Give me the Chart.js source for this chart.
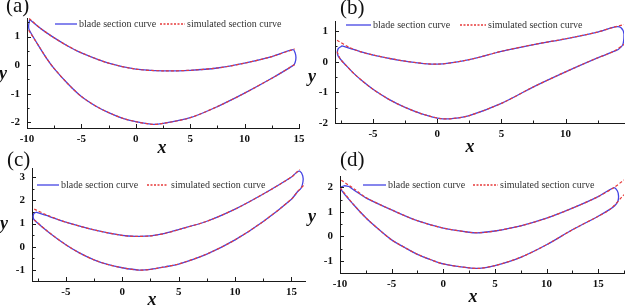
<!DOCTYPE html>
<html>
<head>
<meta charset="utf-8">
<script src="https://cdn.jsdelivr.net/npm/chart.js@4/dist/chart.umd.min.js"></script>
<style>
  html, body { margin: 0; padding: 0; background: #fff; }
  #wrap { position: relative; width: 627px; height: 306px; overflow: hidden; }
  #wrap canvas { position: absolute; left: 0; top: 0; }
</style>
</head>
<body>
<div id="wrap">
  <canvas id="cA" width="627" height="306"></canvas>
  <canvas id="cB" width="627" height="306"></canvas>
  <canvas id="cC" width="627" height="306"></canvas>
  <canvas id="cD" width="627" height="306"></canvas>
</div>
<script>
// ---- data: [x, y] points ----
// (a)
const bladeA = [
  [-9.75,1.6],[-8.7,1.27],[-7.6,0.98],[-6.3,0.68],[-5,0.43],[-2.5,0.07],[0,-0.14],[2.5,-0.2],[5,-0.18],[7.5,-0.1],[10,0.07],[12.5,0.3],[14.45,0.54],
  [14.65,0.42],[14.72,0.27],[14.65,0.1],
  [14.5,0.0],[12.5,-0.46],[10,-0.98],[7.5,-1.45],[5,-1.84],[2.5,-2.04],[1.5,-2.07],[0,-1.98],[-1.2,-1.86],[-2.5,-1.66],[-3.7,-1.43],[-5,-1.1],[-6.2,-0.67],[-7.5,-0.12],[-8.2,0.24],[-9,0.72],[-9.8,1.24],
  [-9.85,1.38],[-9.75,1.6]
];
const simUpperA = [[-9.8,1.63],[-8.7,1.27],[-7.6,0.98],[-6.3,0.68],[-5,0.43],[-2.5,0.07],[0,-0.14],[2.5,-0.2],[5,-0.18],[7.5,-0.1],[10,0.07],[12.5,0.3],[14.6,0.57]];
const simLowerA = [[-9.85,1.22],[-9,0.72],[-8.2,0.24],[-7.5,-0.12],[-6.2,-0.67],[-5,-1.1],[-3.7,-1.43],[-2.5,-1.66],[-1.2,-1.86],[0,-1.98],[1.5,-2.07],[2.5,-2.04],[5,-1.84],[7.5,-1.45],[10,-0.98],[12.5,-0.46],[14.6,0.02]];
const xTicksA = [-10, -5, 0, 5, 10, 15];
const yTicksA = [-2, -1, 0, 1];

// (b)
const bladeB = [
  [-7.4,0.52],[-6.8,0.44],[-6,0.33],[-5,0.22],[-2.5,0.02],[0,-0.08],[2.5,0.07],[5,0.34],[7.5,0.56],[10,0.75],[12.4,0.96],[13.85,1.14],
  [14.3,1.12],[14.55,0.9],[14.45,0.55],[14.1,0.4],
  [13.7,0.33],[12.4,0.11],[10,-0.33],[7.5,-0.82],[5,-1.36],[2.5,-1.76],[1.3,-1.85],[0.3,-1.86],[-1.2,-1.7],[-2.5,-1.49],[-3.8,-1.22],[-5,-0.9],[-5.8,-0.64],[-6.5,-0.38],[-7.1,-0.12],[-7.55,0.09],
  [-7.75,0.22],[-7.72,0.42],[-7.4,0.52]
];
const simUpperB = [[-7.8,0.7],[-6.8,0.46],[-6,0.33],[-5,0.22],[-2.5,0.02],[0,-0.08],[2.5,0.07],[5,0.34],[7.5,0.56],[10,0.75],[12.4,0.96],[13.85,1.14],[14.6,1.22]];
const simLowerB = [[-7.8,0.33],[-7.55,0.09],[-7.1,-0.12],[-6.5,-0.38],[-5.8,-0.64],[-5,-0.9],[-3.8,-1.22],[-2.5,-1.49],[-1.2,-1.7],[0.3,-1.86],[1.3,-1.85],[2.5,-1.76],[5,-1.36],[7.5,-0.82],[10,-0.33],[12.4,0.11],[13.7,0.33],[14.6,0.58]];
const xTicksB = [-5, 0, 5, 10];
const yTicksB = [-2, -1, 0, 1];

// (c)
const bladeC = [
  [-7.66,1.49],[-6.5,1.31],[-5,1.06],[-2.5,0.73],[0,0.49],[1.2,0.45],[2.5,0.47],[3.8,0.58],[5,0.74],[7.5,1.1],[10,1.62],[12.5,2.27],[15,3.0],[15.45,3.2],
  [15.75,3.25],[16.0,3.05],[16.02,2.8],[15.85,2.52],
  [15.55,2.38],[15,2.05],[12.5,1.09],[10,0.3],[7.5,-0.31],[5,-0.74],[3.8,-0.86],[2.5,-0.97],[1.5,-1.0],[0,-0.9],[-1.3,-0.76],[-2.5,-0.56],[-3.8,-0.26],[-5,0.09],[-6.5,0.62],[-7.66,1.09],
  [-7.88,1.22],[-7.85,1.42],[-7.66,1.49]
];
const simUpperC = [[-7.8,1.62],[-6.5,1.33],[-5,1.06],[-2.5,0.73],[0,0.49],[1.2,0.45],[2.5,0.47],[3.8,0.58],[5,0.74],[7.5,1.1],[10,1.62],[12.5,2.27],[15,3.0],[15.45,3.2],[15.75,3.32]];
const simLowerC = [[-7.8,1.16],[-6.5,0.62],[-5,0.09],[-3.8,-0.26],[-2.5,-0.56],[-1.3,-0.76],[0,-0.9],[1.5,-1.0],[2.5,-0.97],[3.8,-0.86],[5,-0.74],[7.5,-0.31],[10,0.3],[12.5,1.09],[15,2.05],[15.55,2.38],[16.2,2.7]];
const xTicksC = [-5, 0, 5, 10, 15];
const yTicksC = [-1, 0, 1, 2, 3];

// (d)
const bladeD = [
  [-9.17,2.04],[-8.52,1.85],[-7.45,1.56],[-5,1.08],[-2.45,0.63],[0,0.34],[2.5,0.17],[3.5,0.15],[5,0.22],[7.5,0.43],[10,0.74],[12.5,1.15],[15,1.62],[16.49,1.98],
  [16.85,1.86],[16.97,1.65],[16.9,1.42],[16.6,1.25],
  [16.2,1.12],[15,0.82],[12.5,0.27],[10,-0.34],[7.5,-0.85],[5,-1.19],[3.5,-1.3],[2.5,-1.28],[0,-1.12],[-1.2,-0.95],[-2.45,-0.74],[-3.7,-0.46],[-5,-0.14],[-6.2,0.27],[-7.45,0.74],[-8.7,1.3],[-9.97,1.96],
  [-9.6,2.06],[-9.17,2.04]
];
const simUpperD = [[-9.87,2.29],[-8.52,1.9],[-7.45,1.57],[-5,1.08],[-2.45,0.63],[0,0.34],[2.5,0.17],[3.5,0.15],[5,0.22],[7.5,0.43],[10,0.74],[12.5,1.15],[15,1.62],[16.49,1.98],[17.5,2.3]];
const simLowerD = [[-9.97,1.98],[-8.7,1.3],[-7.45,0.74],[-6.2,0.27],[-5,-0.14],[-3.7,-0.46],[-2.45,-0.74],[-1.2,-0.95],[0,-1.12],[2.5,-1.28],[3.5,-1.3],[5,-1.19],[7.5,-0.85],[10,-0.34],[12.5,0.27],[15,0.82],[16.2,1.12],[17.5,1.7]];
const xTicksD = [-10, -5, 0, 5, 10, 15];
const yTicksD = [-1, 0, 1, 2];

const BLUE = "#4444e4";
const RED = "#e63a3a";
const AXIS = "#1a1a1a";
const SERIF = '"Liberation Serif", "Times New Roman", serif';
const W = 627, H = 306;

/**
 * Draws inward tick marks, panel label, axis titles and the in-plot legend
 */
const decor = {
    id: "decor",
    afterDraw(chart, args, o) {
        const ctx = chart.ctx;
        const xs = chart.scales.x, ys = chart.scales.y;
        ctx.save();
        ctx.strokeStyle = AXIS;
        ctx.lineWidth = 1;

        // x ticks (major + one minor between)
        const hx = o.xStep / 2;
        for (let v = Math.ceil(xs.min / hx - 1e-9) * hx; v <= xs.max + 1e-9; v += hx) {
            const major = Math.abs(v / o.xStep - Math.round(v / o.xStep)) < 1e-6;
            const px = Math.round(xs.getPixelForValue(v)) + 0.5;
            ctx.beginPath();
            ctx.moveTo(px, xs.top);
            ctx.lineTo(px, xs.top - (major ? 4 : 2.5));
            ctx.stroke();
        }
        // y ticks
        const hy = o.yStep / 2;
        for (let v = Math.ceil(ys.min / hy - 1e-9) * hy; v <= ys.max + 1e-9; v += hy) {
            const major = Math.abs(v / o.yStep - Math.round(v / o.yStep)) < 1e-6;
            const py = Math.round(ys.getPixelForValue(v)) + 0.5;
            ctx.beginPath();
            ctx.moveTo(ys.right, py);
            ctx.lineTo(ys.right + (major ? 4 : 2.5), py);
            ctx.stroke();
        }

        // panel label
        ctx.fillStyle = "#111";
        ctx.font = "21px " + SERIF;
        ctx.textAlign = "left";
        ctx.textBaseline = "alphabetic";
        ctx.fillText(o.label, o.labelPos[0], o.labelPos[1]);

        // axis titles
        ctx.font = "bold italic 18px " + SERIF;
        ctx.textAlign = "center";
        ctx.textBaseline = "middle";
        ctx.fillText("x", o.xTitle[0], o.xTitle[1]);
        ctx.fillText("y", o.yTitle[0], o.yTitle[1]);

        // legend
        const lg = o.legend;
        ctx.font = "10px " + SERIF;
        ctx.textAlign = "left";
        ctx.fillStyle = "#333";
        ctx.lineWidth = 1.3;
        ctx.strokeStyle = BLUE;
        ctx.beginPath();
        ctx.moveTo(lg.blue[0], lg.y);
        ctx.lineTo(lg.blue[1], lg.y);
        ctx.stroke();
        ctx.fillText("blade section curve", lg.blue[2], lg.y + 0.5);
        ctx.strokeStyle = RED;
        ctx.setLineDash([2, 1.5]);
        ctx.beginPath();
        ctx.moveTo(lg.red[0], lg.y);
        ctx.lineTo(lg.red[1], lg.y);
        ctx.stroke();
        ctx.setLineDash([]);
        ctx.fillText("simulated section curve", lg.red[2], lg.y + 0.5);
        ctx.restore();
    }
};

function toXY(arr) {
    return arr.map(p => ({ x: p[0], y: p[1] }));
}

function tickValues(vals) {
    return scale => { scale.ticks = vals.map(v => ({ value: v })); };
}

function createPanel(canvasId, p) {
    const el = document.getElementById(canvasId);
    const yW = Math.min(30, p.area[0]);
    const xH = 20;
    const tickFont = { family: SERIF, size: 11, weight: "bold" };
    new Chart(el, {
        type: "scatter",
        data: {
            datasets: [
                { label: "blade section curve", data: toXY(p.blade), showLine: true, borderColor: BLUE, borderWidth: 1.3, pointRadius: 0, tension: 0.3, order: 2 },
                { label: "simulated section curve", data: toXY(p.simUp), showLine: true, borderColor: RED, borderWidth: 1.2, borderDash: [3, 2], pointRadius: 0, tension: 0.3, order: 1 },
                { label: "simulated section curve", data: toXY(p.simLow), showLine: true, borderColor: RED, borderWidth: 1.2, borderDash: [3, 2], pointRadius: 0, tension: 0.3, order: 1 }
            ]
        },
        options: {
            responsive: false,
            animation: false,
            devicePixelRatio: 1,
            layout: {
                padding: {
                    left: p.area[0] - yW,
                    top: p.area[1],
                    right: W - p.area[2],
                    bottom: H - p.area[3] - xH
                }
            },
            plugins: {
                legend: { display: false },
                tooltip: { enabled: false },
                decor: p.decor
            },
            scales: {
                x: {
                    type: "linear",
                    min: p.xRange[0],
                    max: p.xRange[1],
                    grid: { display: false, drawTicks: false },
                    border: { display: true, color: AXIS, width: 1 },
                    ticks: { font: tickFont, color: "#111", padding: 5, autoSkip: false, maxRotation: 0 },
                    afterBuildTicks: tickValues(p.xTicks),
                    afterFit: s => { s.height = xH; }
                },
                y: {
                    type: "linear",
                    min: p.yRange[0],
                    max: p.yRange[1],
                    grid: { display: false, drawTicks: false },
                    border: { display: true, color: AXIS, width: 1 },
                    ticks: { font: tickFont, color: "#111", padding: 7, autoSkip: false },
                    afterBuildTicks: tickValues(p.yTicks),
                    afterFit: s => { s.width = yW; }
                }
            }
        },
        plugins: [decor]
    });
}

document.addEventListener("DOMContentLoaded", function() {
    createPanel("cA", {
        blade: bladeA, simUp: simUpperA, simLow: simLowerA,
        xRange: [-10, 15], yRange: [-2.2, 1.65], xTicks: xTicksA, yTicks: yTicksA,
        area: [27, 18, 299, 128],
        decor: { xStep: 5, yStep: 1, label: "(a)", labelPos: [6, 12], xTitle: [162, 148], yTitle: [3, 74],
                 legend: { y: 24, blue: [55, 77, 79], red: [160, 185, 187] } }
    });
    createPanel("cB", {
        blade: bladeB, simUp: simUpperB, simLow: simLowerB,
        xRange: [-7.96, 14.55], yRange: [-2, 1.33], xTicks: xTicksB, yTicks: yTicksB,
        area: [335, 21, 624, 123],
        decor: { xStep: 5, yStep: 1, label: "(b)", labelPos: [340, 14], xTitle: [470, 147], yTitle: [312, 77],
                 legend: { y: 25, blue: [346, 371, 373], red: [460, 486, 488] } }
    });
    createPanel("cC", {
        blade: bladeC, simUp: simUpperC, simLow: simLowerC,
        xRange: [-8, 16.2], yRange: [-1.47, 3.39], xTicks: xTicksC, yTicks: yTicksC,
        area: [32, 168, 305, 281],
        decor: { xStep: 5, yStep: 1, label: "(c)", labelPos: [7, 166], xTitle: [152, 300], yTitle: [4, 224],
                 legend: { y: 185, blue: [37, 59, 61], red: [147, 168, 171] } }
    });
    createPanel("cD", {
        blade: bladeD, simUp: simUpperD, simLow: simLowerD,
        xRange: [-10, 17.5], yRange: [-1.49, 2.46], xTicks: xTicksD, yTicks: yTicksD,
        area: [340, 176, 624, 273],
        decor: { xStep: 5, yStep: 1, label: "(d)", labelPos: [340, 166], xTitle: [473, 297], yTitle: [312, 217],
                 legend: { y: 185, blue: [363, 386, 388], red: [473, 498, 500] } }
    });
});
</script>
</body>
</html>
